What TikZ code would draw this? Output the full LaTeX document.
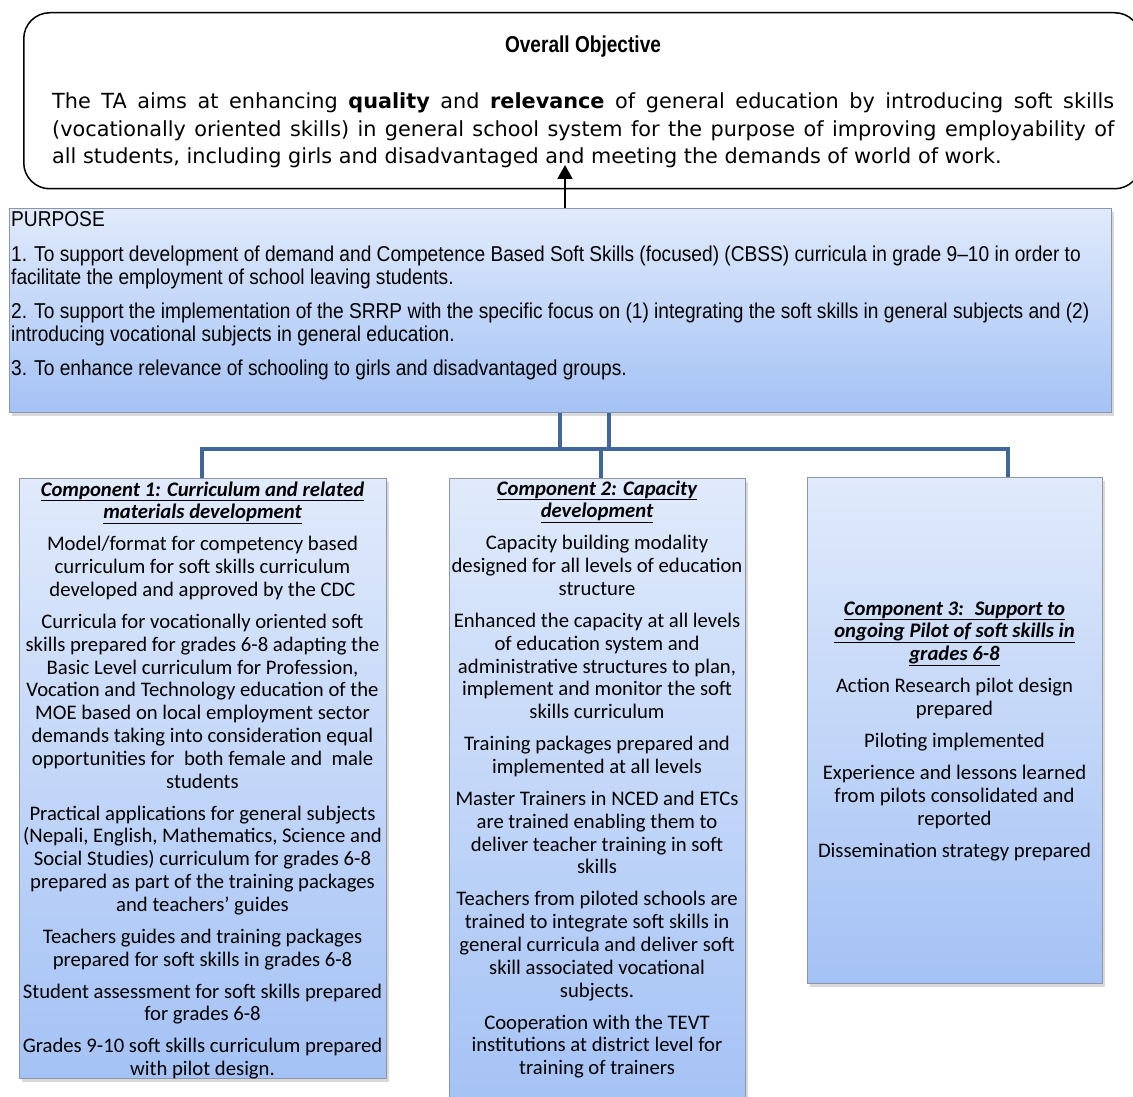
\documentclass[tikz,border=0pt]{standalone}
\usepackage{fontspec}
\setmainfont{Carlito}
\newfontfamily\verd{DejaVu Sans}
\newfontfamily\narrowf[FakeStretch=0.89]{Liberation Sans}
\newfontfamily\titlef[FakeStretch=0.83]{Liberation Sans}
\usetikzlibrary{shadows,arrows.meta}
\definecolor{boxtop}{HTML}{E0EAFB}
\definecolor{boxbot}{HTML}{A4C2F5}
\definecolor{boxline}{HTML}{8C98AA}
\definecolor{conncol}{HTML}{41679A}
\newcommand{\compfont}{\centering\fontsize{20.7pt}{22.8pt}\selectfont\setlength{\parskip}{9.2pt}}
\newcommand{\ctitle}[1]{\textbf{\textit{\underline{#1}}}}
\tikzset{
  bluebox/.style={draw=boxline, line width=1pt, top color=boxtop, bottom color=boxbot,
    anchor=north west, inner sep=0pt,
    drop shadow={opacity=0.3, shadow xshift=2pt, shadow yshift=-3pt}},
  conn/.style={draw=conncol, line width=4.5pt},
  textnode/.style={inner sep=0pt},
  objbox/.style={draw=black, line width=1.5pt, rounded corners=26pt, anchor=north west, inner sep=0pt}
}
\begin{document}
\begin{tikzpicture}[x=1pt,y=-1pt]
\useasboundingbox (0,0) rectangle (1133,1097);
% overall objective box
\node[objbox, minimum width=1117pt, minimum height=176pt] (obj) at (23,12) {};
\node[textnode, anchor=base] (objtitle) at (583,53) {\titlef\bfseries\fontsize{23pt}{25pt}\selectfont Overall Objective};
\node[textnode, anchor=base west] (objtext) at (52,109) {\parbox[t]{1062pt}{\verd\fontsize{20.8pt}{27.5pt}\selectfont
\makebox[1062pt][s]{The TA aims at enhancing \textbf{quality} and \textbf{relevance} of general education by introducing soft skills}\\
\makebox[1062pt][s]{(vocationally oriented skills) in general school system for the purpose of improving employability of}\\
all students, including girls and disadvantaged and meeting the demands of world of work.}};
% purpose box
\node[bluebox, minimum width=1102pt, minimum height=204pt] (purpose) at (9,208) {};
\node[textnode, anchor=base west] (ptext) at (11,226.5) {\parbox[t]{1110pt}{\narrowf\fontsize{21.5pt}{23pt}\selectfont
PURPOSE\\[12pt]
1. To support development of demand and Competence Based Soft Skills (focused) (CBSS) curricula in grade 9–10 in order to\\
facilitate the employment of school leaving students.\\[11pt]
2. To support the implementation of the SRRP with the specific focus on (1) integrating the soft skills in general subjects and (2)\\
introducing vocational subjects in general education.\\[11pt]
3. To enhance relevance of schooling to girls and disadvantaged groups.}};
% arrow to objective
\coordinate (tip) at (565,165);
\draw[line width=2pt, -{Triangle[width=15pt,length=14pt]}] (purpose.north -| tip) -- (tip);
% component boxes
\node[bluebox, minimum width=367pt, minimum height=600pt] (c1) at (19,478) {};
\node[bluebox, minimum width=296pt, minimum height=630pt] (c2) at (449,478) {};
\node[bluebox, minimum width=295pt, minimum height=506pt] (c3) at (807,477) {};
% connectors
\coordinate (j1) at (560,449);
\coordinate (j2) at (609,449);
\coordinate (d1) at (202,449);
\coordinate (d2) at (601,449);
\coordinate (d3) at (1008,449);
\draw[conn] (purpose.south -| j1) -- (j1);
\draw[conn] (purpose.south -| j2) -- (j2);
\draw[conn] (c1.north -| d1) -- (d1) -- (d3) -- (c3.north -| d3);
\draw[conn] (d2) -- (c2.north -| d2);
% component texts
\node[textnode, anchor=base] (c1t) at (202.5,496) {\parbox[t]{440pt}{\compfont
\ctitle{Component 1: Curriculum and related}\\
\ctitle{materials development}\par
Model/format for competency based\\ curriculum for soft skills curriculum\\ developed and approved by the CDC\par
Curricula for vocationally oriented soft\\ skills prepared for grades 6-8 adapting the\\ Basic Level curriculum for Profession,\\ Vocation and Technology education of the\\ MOE based on local employment sector\\ demands taking into consideration equal\\ opportunities for~ both female and~ male\\ students\par
Practical applications for general subjects\\ (Nepali, English, Mathematics, Science and\\ Social Studies) curriculum for grades 6-8\\ prepared as part of the training packages\\ and teachers’ guides\par
Teachers guides and training packages\\ prepared for soft skills in grades 6-8\par
Student assessment for soft skills prepared\\ for grades 6-8\par
Grades 9-10 soft skills curriculum prepared\\ with pilot design.}};
\node[textnode, anchor=base] (c2t) at (597,495) {\parbox[t]{400pt}{\compfont
\ctitle{Component 2: Capacity}\\
\ctitle{development}\par
Capacity building modality\\ designed for all levels of education\\ structure\par
Enhanced the capacity at all levels\\ of education system and\\ administrative structures to plan,\\ implement and monitor the soft\\ skills curriculum\par
Training packages prepared and\\ implemented at all levels\par
Master Trainers in NCED and ETCs\\ are trained enabling them to\\ deliver teacher training in soft\\ skills\par
Teachers from piloted schools are\\ trained to integrate soft skills in\\ general curricula and deliver soft\\ skill associated vocational\\ subjects.\par
Cooperation with the TEVT\\ institutions at district level for\\ training of trainers}};
\node[textnode, anchor=base] (c3t) at (954.5,615) {\parbox[t]{400pt}{\compfont
\ctitle{Component 3:~ Support to}\\
\ctitle{ongoing Pilot of soft skills in}\\
\ctitle{grades 6-8}\par
Action Research pilot design\\ prepared\par
Piloting implemented\par
Experience and lessons learned\\ from pilots consolidated and\\ reported\par
Dissemination strategy prepared}};
\end{tikzpicture}
\end{document}
